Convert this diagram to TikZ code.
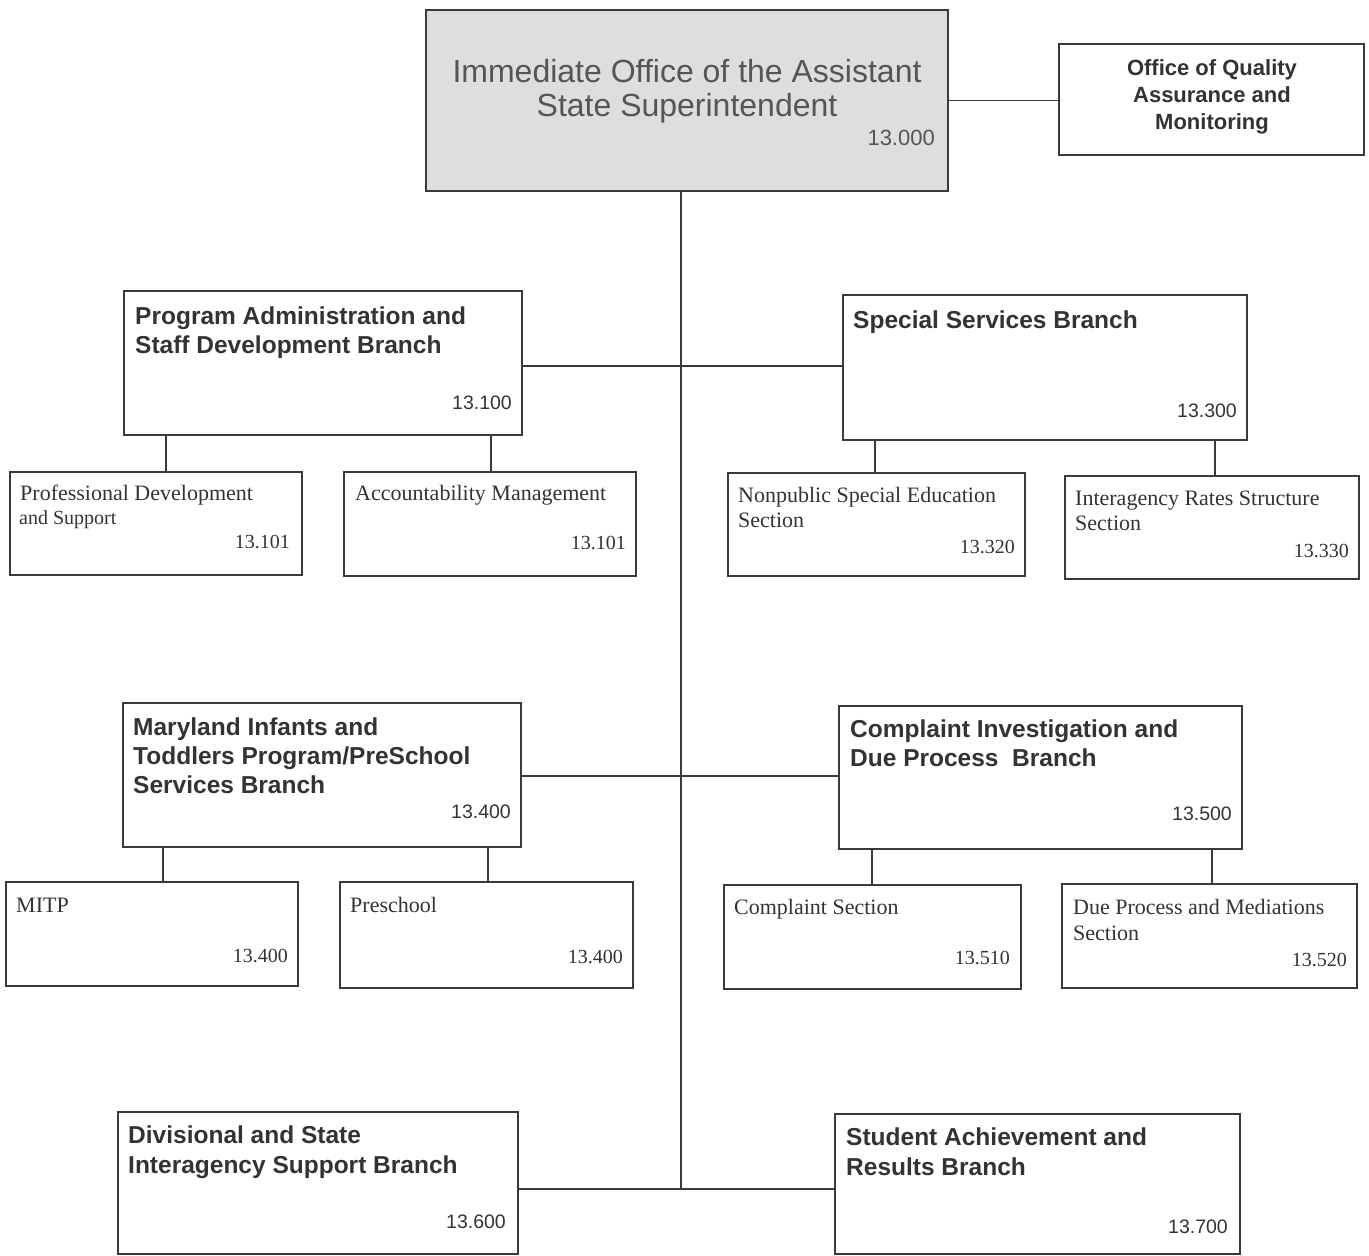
\documentclass[tikz,border=0pt]{standalone}
\usepackage{fontspec}
\setmainfont{Liberation Serif}
\newfontfamily\arial{Liberation Sans}
\definecolor{linec}{HTML}{3A3A3A}
\definecolor{txtc}{HTML}{333333}
\definecolor{graytxt}{HTML}{555555}
\definecolor{topfill}{HTML}{DEDEDE}
\begin{document}
\begin{tikzpicture}[x=1pt,y=-1pt,
  box/.style={draw=linec, line width=1.8pt, inner sep=0pt, outer sep=0pt, anchor=north west},
  conn/.style={draw=linec, line width=1.6pt},
  ttl/.style={font=\arial\bfseries\fontsize{24.5}{29}\selectfont, text=txtc, inner sep=0pt, anchor=base west},
  num/.style={font=\arial\fontsize{19.5}{23}\selectfont, text=txtc, inner sep=0pt, anchor=base east},
  subt/.style={font=\fontsize{22}{26}\selectfont, text=txtc, inner sep=0pt, anchor=base west},
  snum/.style={font=\fontsize{20}{24}\selectfont, text=txtc, inner sep=0pt, anchor=base east},
  toptxt/.style={font=\arial\fontsize{32}{38}\selectfont, text=graytxt, inner sep=0pt, anchor=base},
  oqatxt/.style={font=\arial\bfseries\fontsize{22}{26}\selectfont, text=txtc, inner sep=0pt, anchor=base}
]
\useasboundingbox (0,0) rectangle (1369,1256);

% boxes
\node[box, fill=topfill, minimum width=522pt, minimum height=181pt] (top) at (426,10) {};
\node[box, minimum width=305pt, minimum height=111pt] (oqa) at (1059,44) {};
\node[box, minimum width=398pt, minimum height=144pt] (pas) at (124,291) {};
\node[box, minimum width=404pt, minimum height=145pt] (ss) at (843,295) {};
\node[box, minimum width=398pt, minimum height=144pt] (mi) at (123,703) {};
\node[box, minimum width=403pt, minimum height=143pt] (ci) at (839,706) {};
\node[box, minimum width=400pt, minimum height=142pt] (div) at (118,1112) {};
\node[box, minimum width=405pt, minimum height=140pt] (sa) at (835,1114) {};
\node[box, minimum width=292pt, minimum height=103pt] (pd) at (10,472) {};
\node[box, minimum width=292pt, minimum height=104pt] (acc) at (344,472) {};
\node[box, minimum width=297pt, minimum height=103pt] (np) at (728,473) {};
\node[box, minimum width=294pt, minimum height=103pt] (ir) at (1065,476) {};
\node[box, minimum width=292pt, minimum height=104pt] (mitp) at (6,882) {};
\node[box, minimum width=293pt, minimum height=106pt] (pre) at (340,882) {};
\node[box, minimum width=297pt, minimum height=104pt] (cs) at (724,885) {};
\node[box, minimum width=295pt, minimum height=104pt] (dp) at (1062,884) {};

% connectors
\coordinate (mb) at (681,1189);
\coordinate (m1) at (681,366);
\coordinate (m2) at (681,776);
\draw[conn] (top.south -| mb) -- (mb);
\draw[conn] (top.east) -- (oqa.west |- top.east);
\draw[conn] (pas.east |- m1) -- (ss.west |- m1);
\draw[conn] (mi.east |- m2) -- (ci.west |- m2);
\draw[conn] (div.east |- mb) -- (sa.west |- mb);
\draw[conn] ([xshift=42pt]pas.south west) -- ([xshift=156pt]pd.north west);
\draw[conn] ([xshift=367pt]pas.south west) -- ([xshift=147pt]acc.north west);
\draw[conn] ([xshift=32pt]ss.south west) -- ([xshift=147pt]np.north west);
\draw[conn] ([xshift=372pt]ss.south west) -- ([xshift=150pt]ir.north west);
\draw[conn] ([xshift=40pt]mi.south west) -- ([xshift=157pt]mitp.north west);
\draw[conn] ([xshift=365pt]mi.south west) -- ([xshift=148pt]pre.north west);
\draw[conn] ([xshift=33pt]ci.south west) -- ([xshift=148pt]cs.north west);
\draw[conn] ([xshift=373pt]ci.south west) -- ([xshift=150pt]dp.north west);

% top texts
\node[toptxt] (top-t1) at (687,82) {Immediate Office of the Assistant};
\node[toptxt] (top-t2) at (687,116) {State Superintendent};
\node[font=\arial\fontsize{22}{26}\selectfont, text=graytxt, inner sep=0pt, anchor=base east] (top-n) at (935,145) {13.000};
\node[oqatxt] (oqa-t1) at (1212,75) {Office of Quality};
\node[oqatxt] (oqa-t2) at (1212,102) {Assurance and};
\node[oqatxt] (oqa-t3) at (1212,129) {Monitoring};

% branch texts
\node[ttl] (pas-t1) at (135,324) {Program Administration and};
\node[ttl] (pas-t2) at (135,353) {Staff Development Branch};
\node[num] (pas-n) at (512,409) {13.100};
\node[ttl] (ss-t1) at (853,328) {Special Services Branch};
\node[num] (ss-n) at (1237,417) {13.300};
\node[ttl] (mi-t1) at (133,735) {Maryland Infants and};
\node[ttl] (mi-t2) at (133,764) {Toddlers Program/PreSchool};
\node[ttl] (mi-t3) at (133,793) {Services Branch};
\node[num] (mi-n) at (511,818) {13.400};
\node[ttl] (ci-t1) at (850,737) {Complaint Investigation and};
\node[ttl] (ci-t2) at (850,766) {Due Process~ Branch};
\node[num] (ci-n) at (1232,820) {13.500};
\node[ttl] (div-t1) at (128,1143) {Divisional and State};
\node[ttl] (div-t2) at (128,1173) {Interagency Support Branch};
\node[num] (div-n) at (506,1228) {13.600};
\node[ttl] (sa-t1) at (846,1145) {Student Achievement and};
\node[ttl] (sa-t2) at (846,1175) {Results Branch};
\node[num] (sa-n) at (1228,1233) {13.700};

% section texts
\node[subt] (pd-t1) at (20,500) {Professional Development};
\node[subt, font=\fontsize{20}{23}\selectfont] (pd-t2) at (19,524) {and Support};
\node[snum] (pd-n) at (290,548) {13.101};
\node[subt] (acc-t1) at (355,500) {Accountability Management};
\node[snum] (acc-n) at (626,549) {13.101};
\node[subt] (np-t1) at (738,502) {Nonpublic Special Education};
\node[subt] (np-t2) at (738,527) {Section};
\node[snum] (np-n) at (1015,553) {13.320};
\node[subt] (ir-t1) at (1075,505) {Interagency Rates Structure};
\node[subt] (ir-t2) at (1075,530) {Section};
\node[snum] (ir-n) at (1349,557) {13.330};
\node[subt] (mitp-t1) at (16,912) {MITP};
\node[snum] (mitp-n) at (288,962) {13.400};
\node[subt] (pre-t1) at (350,912) {Preschool};
\node[snum] (pre-n) at (623,963) {13.400};
\node[subt] (cs-t1) at (734,914) {Complaint Section};
\node[snum] (cs-n) at (1010,964) {13.510};
\node[subt] (dp-t1) at (1073,914) {Due Process and Mediations};
\node[subt] (dp-t2) at (1073,940) {Section};
\node[snum] (dp-n) at (1347,966) {13.520};
\end{tikzpicture}
\end{document}
